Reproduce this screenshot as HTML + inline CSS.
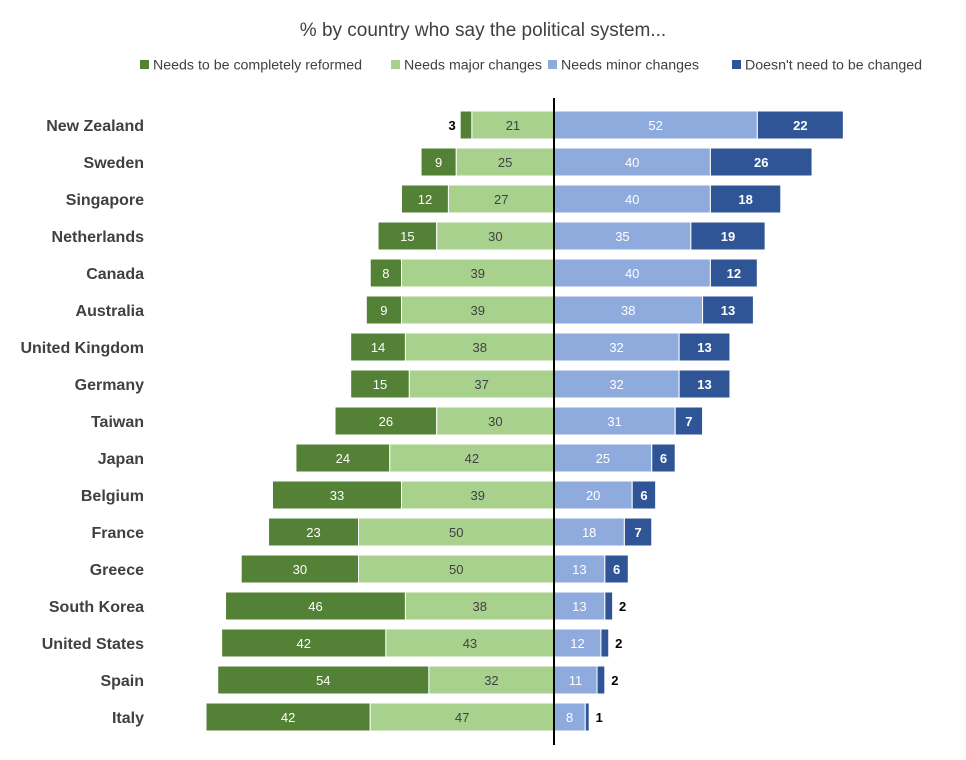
<!DOCTYPE html>
<html><head><meta charset="utf-8"><style>
body{margin:0;background:#fff;font-family:"Liberation Sans",sans-serif}
svg text{font-family:"Liberation Sans",sans-serif}
</style></head><body>
<svg id="c" width="966" height="755">
<text x="483" y="36" text-anchor="middle" font-size="19" fill="#404040">% by country who say the political system...</text>
<g id="legend"></g>
<g id="bars"></g>
<line x1="554" y1="98" x2="554" y2="745" stroke="#000" stroke-width="2"/>
</svg>
<script>
const countries=["New Zealand","Sweden","Singapore","Netherlands","Canada","Australia","United Kingdom","Germany","Taiwan","Japan","Belgium","France","Greece","South Korea","United States","Spain","Italy"];
const reformed=[3,9,12,15,8,9,14,15,26,24,33,23,30,46,42,54,42];
const major=[21,25,27,30,39,39,38,37,30,42,39,50,50,38,43,32,47];
const minor=[52,40,40,35,40,38,32,32,31,25,20,18,13,13,12,11,8];
const none=[22,26,18,19,12,13,13,13,7,6,6,7,6,2,2,2,1];
const seriesNames=["Needs to be completely reformed","Needs major changes","Needs minor changes","Doesn't need to be changed"];
const colors=["#538135","#a9d18e","#8faadc","#2f5597"];
const NS="http://www.w3.org/2000/svg";
const cx=554,k=3.91,y0=125,step=37,bh=28;
const X=v=>v*k, Y=i=>y0+i*step;
const g=document.getElementById('bars');
function mk(t,a,p){const e=document.createElementNS(NS,t);for(const q in a)e.setAttribute(q,a[q]);(p||g).appendChild(e);return e;}
countries.forEach((c,i)=>{
 const lab=mk('text',{x:144,y:Y(i)+6,'text-anchor':'end','font-size':16,'font-weight':'bold',fill:'#404040'});
 lab.textContent=c;
 
 
 const segs=[[cx-X(major[i])-X(reformed[i]),reformed[i],0],[cx-X(major[i]),major[i],1],[cx,minor[i],2],[cx+X(minor[i]),none[i],3]];
 segs.forEach(([x,v,s])=>{
  const r=mk('rect',{x:x,y:Y(i)-bh/2,width:X(v),height:bh,fill:colors[s],stroke:'#fff','stroke-width':1});
  
  
  const small=v<5;
  let tx=x+X(v)/2;
  if(small){tx=s==0?x-8:x+X(v)+10;}
  const t=mk('text',{x:tx,y:Y(i)+5,'text-anchor':'middle','font-size':13,
   'font-weight':(small||s==3)?'bold':'normal',
   fill:small?'#000':(s==1?'#404040':'#fff')});
  t.textContent=v;
  
  
 });
});
const lg=document.getElementById('legend');
const lx=[140,391,548,732];
seriesNames.forEach((n,s)=>{
 const r=mk('rect',{x:lx[s],y:60,width:9,height:9,fill:colors[s]},lg);
 
 
 const t=mk('text',{x:lx[s]+13,y:69.5,'font-size':14.2,fill:'#404040'},lg);
 t.textContent=n;
 
 
});
</script>
</body></html>
